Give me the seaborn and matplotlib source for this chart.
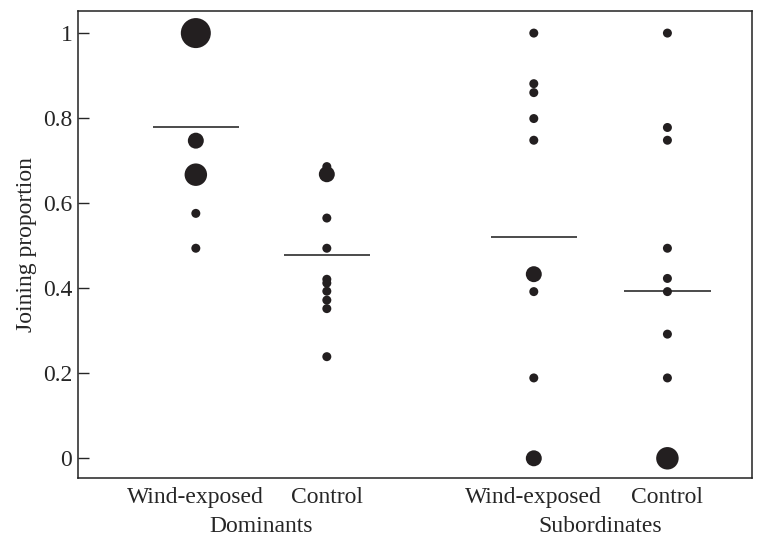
import numpy as np
import pandas as pd
import matplotlib
matplotlib.use('Agg')
import matplotlib.pyplot as plt
import seaborn as sns

# Data: joining proportion and number of birds per dot
dom_wind_y = [1.00, 0.747, 0.667, 0.576, 0.494]
dom_wind_n = [4, 2, 3, 1, 1]

dom_ctrl_y = [0.686, 0.668, 0.565, 0.494, 0.421, 0.412, 0.393, 0.372, 0.352, 0.239]
dom_ctrl_n = [1, 2, 1, 1, 1, 1, 1, 1, 1, 1]

sub_wind_y = [1.00, 0.881, 0.860, 0.799, 0.748, 0.433, 0.392, 0.189, 0.0]
sub_wind_n = [1, 1, 1, 1, 1, 2, 1, 1, 2]

sub_ctrl_y = [1.00, 0.778, 0.748, 0.494, 0.423, 0.392, 0.292, 0.189, 0.0]
sub_ctrl_n = [1, 1, 1, 1, 1, 1, 1, 1, 3]

conditions = ['Wind-exposed', 'Control', 'Wind-exposed', 'Control']
groups = ['Dominants', 'Subordinates']
yticks = [0, 0.2, 0.4, 0.6, 0.8, 1]
ytick_labels = ['0', '0.2', '0.4', '0.6', '0.8', '1']

# Layout
X_POS = [0.0, 1.0, 2.58, 3.60]
GROUP_POS = [0.5, 3.09]
HALF_W = 0.33
DOT = '#231f20'
SIZES = {1: 42, 2: 132, 3: 262, 4: 467}
FS = 17

series = [(dom_wind_y, dom_wind_n), (dom_ctrl_y, dom_ctrl_n),
          (sub_wind_y, sub_wind_n), (sub_ctrl_y, sub_ctrl_n)]

rows = []
for pos, (ys, ns) in zip(X_POS, series):
    for y, n in zip(ys, ns):
        rows.append({'x': pos, 'y': y, 'n': n})
df = pd.DataFrame(rows)

sns.set_style('ticks')
plt.rcParams['font.family'] = ['Liberation Serif', 'DejaVu Serif']

fig = plt.figure(figsize=(7.64, 5.38), dpi=100)
ax = fig.add_axes([0.102, 0.111, 0.882, 0.869])

sns.scatterplot(data=df, x='x', y='y', size='n', sizes=SIZES, color=DOT,
                edgecolor='none', linewidth=0, legend=False, ax=ax, zorder=3)

# Weighted means as short horizontal lines
for pos, (ys, ns) in zip(X_POS, series):
    m = np.average(ys, weights=ns)
    ax.hlines(m, pos - HALF_W, pos + HALF_W, color='#1a1a1a', lw=1.1, zorder=2)

ax.set_xlim(-0.90, 4.244)
ax.set_ylim(-0.047, 1.0525)
ax.set_yticks(yticks)
ax.set_yticklabels(ytick_labels)
ax.set_xticks(X_POS)
ax.set_xticklabels(conditions)
ax.tick_params(axis='y', direction='in', length=8, width=1, labelsize=FS, pad=4)
ax.tick_params(axis='x', length=0, labelsize=FS, pad=6)
ax.set_xlabel('')
ax.set_ylabel('Joining proportion', fontsize=FS, labelpad=4)

for sp in ax.spines.values():
    sp.set_linewidth(1.1)
    sp.set_color('#222222')

for gx, name in zip(GROUP_POS, groups):
    ax.text(gx, -0.115, name, transform=ax.get_xaxis_transform(),
            ha='center', va='baseline', fontsize=FS)

fig.savefig('out.png', dpi=100)
